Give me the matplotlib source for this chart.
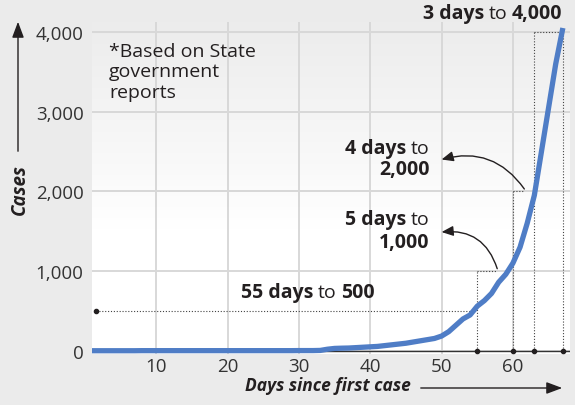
import numpy as np
import matplotlib
matplotlib.use("Agg")
import matplotlib.pyplot as plt
import matplotlib.transforms as mtransforms

plt.rcParams["font.family"] = ["Open Sans", "DejaVu Sans"]

# cumulative cases by day since first case
days = list(range(1, 68))
cases = ([1, 1, 1, 1, 1, 1, 1, 2, 2, 2, 2, 2, 2, 2, 2, 2, 2, 2, 2, 2,
          2, 2, 2, 2, 2, 2, 2, 2, 2, 3, 3, 3, 5]
         + [20, 30, 33, 35, 40, 45, 50, 55, 65, 75, 85, 95, 110, 125, 140, 155,
            185, 240, 320, 400, 450, 560, 630, 720, 860, 960, 1100, 1300, 1600,
            1950, 2500, 3050, 3600, 4050])

yticks = [0, 1000, 2000, 3000, 4000]
ytick_labels = ["0", "1,000", "2,000", "3,000", "4,000"]
xticks = [10, 20, 30, 40, 50, 60]

# milestones: (day reached, cases)
milestone_days = [55, 60, 63, 67]
milestone_vals = [500, 1000, 2000, 4000]

BLUE = "#4f7dc6"
INK = "#231f20"
GRID = "#d8d8d8"
BG = "#ebebeb"

fig = plt.figure(figsize=(5.75, 4.06), dpi=100)
fig.set_facecolor(BG)
ax = fig.add_axes([92 / 575, 1 - 355 / 406, 478 / 575, 332 / 406])
ax.set_xlim(1, 68)
ax.set_ylim(-40, 4125)

# plot area gradient: light grey at top to white
grad = np.linspace(1, 0, 256).reshape(-1, 1)
grad = np.clip(grad * 1.6 - 0.6, 0, 1)
ax.imshow(grad, extent=[0, 1, 0, 1], transform=ax.transAxes, aspect="auto",
          cmap=matplotlib.colors.LinearSegmentedColormap.from_list("g", ["#ffffff", "#ececec"]),
          zorder=0)

for s in ax.spines.values():
    s.set_visible(False)
ax.set_yticks(yticks)
ax.set_yticklabels(ytick_labels)
ax.set_xticks(xticks)
ax.tick_params(length=0, labelsize=13.5, labelcolor="#333333")
ax.tick_params(axis="x", pad=2)
ax.tick_params(axis="y", pad=6)
ax.grid(True, color=GRID, linewidth=1.4, zorder=1)
ax.set_axisbelow(True)
ax.axhline(0, color="#333333", linewidth=1, zorder=2)

# dotted guide lines
dot = dict(color="#444444", linewidth=0.8, linestyle=(0, (1, 1.6)), zorder=3)
d0, d1, d2, d3 = milestone_days
v0, v1, v2, v3 = milestone_vals
ax.plot([1.5, d0], [v0, v0], **dot)
ax.plot([d0, d0], [0, v1], **dot)
ax.plot([d0, 57.8], [v1, v1], **dot)
ax.plot([d1, d1], [0, v2], **dot)
ax.plot([d1, 61.6], [v2, v2], **dot)
ax.plot([d2, d2], [0, v3], **dot)
ax.plot([d2, d3], [v3, v3], **dot)
ax.plot([d3, d3], [0, v3], **dot)

ax.plot(days, cases, color=BLUE, linewidth=3.8, solid_capstyle="butt", zorder=5)

ax.scatter(milestone_days, [0] * 4, s=9, color=INK, zorder=6, clip_on=False)
ax.scatter([1.5], [v0], s=9, color=INK, zorder=6)

# annotation arrows
arw = dict(arrowstyle="-|>,head_length=0.7,head_width=0.3", color=INK, lw=1,
           shrinkA=0, shrinkB=0)
ax.annotate("", xy=(50, 2400), xytext=(61.6, 2030),
            arrowprops=dict(connectionstyle="arc3,rad=0.35", **arw), zorder=7)
ax.annotate("", xy=(50, 1490), xytext=(57.8, 1030),
            arrowprops=dict(connectionstyle="arc3,rad=0.4", **arw), zorder=7)

fig.canvas.draw()
renderer = fig.canvas.get_renderer()


def rich(x, y, parts, size=14, gap=4.5):
    # right-aligned line made of (text, weight) pieces
    widths = []
    for s, w in parts:
        t = ax.text(0, 0, s, fontsize=size, fontweight=w)
        widths.append(t.get_window_extent(renderer).width)
        t.remove()
    total = sum(widths) + gap * (len(parts) - 1)
    off = -total
    for (s, w), wd in zip(parts, widths):
        tr = mtransforms.offset_copy(ax.transData, fig=fig, x=off, y=0, units="dots")
        ax.text(x, y, s, fontsize=size, fontweight=w, color=INK, transform=tr,
                ha="left", va="center", clip_on=False, zorder=8)
        off += wd + gap


rich(66.9, 4237, [("3 days", "bold"), ("to", "normal"), ("4,000", "bold")])
rich(48.3, 2550, [("4 days", "bold"), ("to", "normal")])
rich(48.3, 2275, [("2,000", "bold")])
rich(48.3, 1650, [("5 days", "bold"), ("to", "normal")])
rich(48.3, 1362, [("1,000", "bold")])
rich(40.6, 737, [("55 days", "bold"), ("to", "normal"), ("500", "bold")])

ax.text(3.4, 3880, "*Based on State\ngovernment\nreports", fontsize=14, color=INK,
        ha="left", va="top", linespacing=1.18, zorder=8)

# axis titles with arrows
fig.text(245 / 575, 1 - 386 / 406, "Days since first case", fontsize=12.5,
         fontweight="bold", style="italic", color=INK, ha="left", va="center")
fig.add_artist(matplotlib.patches.FancyArrowPatch(
    (418 / 575, 1 - 389 / 406), (565 / 575, 1 - 389 / 406), transform=fig.transFigure,
    arrowstyle="-|>,head_length=0.8,head_width=0.3", color=INK, lw=1, mutation_scale=12))
fig.text(20 / 575, 1 - 190 / 406, "Cases", fontsize=13.5, rotation=90,
         fontweight="bold", style="italic", color=INK, ha="center", va="center")
fig.add_artist(matplotlib.patches.FancyArrowPatch(
    (18 / 575, 1 - 155 / 406), (18 / 575, 1 - 20 / 406), transform=fig.transFigure,
    arrowstyle="-|>,head_length=0.8,head_width=0.3", color=INK, lw=1, mutation_scale=12))

fig.savefig("out.png", dpi=100, facecolor=BG)
